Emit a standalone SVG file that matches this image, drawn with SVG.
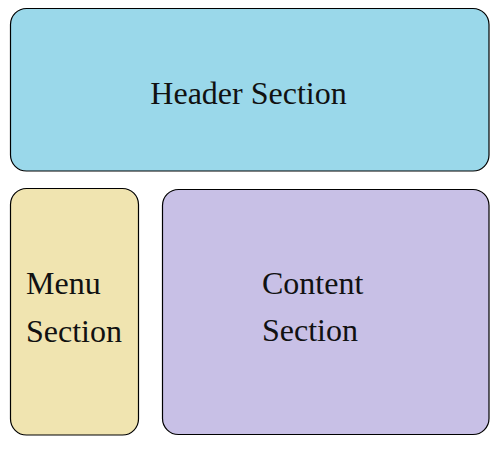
<svg xmlns="http://www.w3.org/2000/svg" width="500" height="450" viewBox="0 0 500 450">
<style>
.box{stroke:#000;stroke-width:1.2}
.t{font-family:"Liberation Serif","Times New Roman",serif;font-size:32px;fill:#111}
</style>
<rect width="500" height="450" fill="#fff"/>
<g id="header">
<rect class="box" x="10.5" y="8.5" width="478.5" height="162.5" rx="16" fill="#9AD8EA"/>
<text class="t" x="248.5" y="104" text-anchor="middle">Header Section</text>
</g>
<g id="menu">
<rect class="box" x="10.5" y="188.5" width="128" height="246.5" rx="16" fill="#F0E4B0"/>
<text class="t" x="26" y="294">Menu</text>
<text class="t" x="26" y="341.5">Section</text>
</g>
<g id="content">
<rect class="box" x="162.5" y="189.5" width="326.5" height="245" rx="16" fill="#C8C0E6"/>
<text class="t" x="262" y="293.5">Content</text>
<text class="t" x="262" y="341">Section</text>
</g>
<g id="connectors"></g>
</svg>
